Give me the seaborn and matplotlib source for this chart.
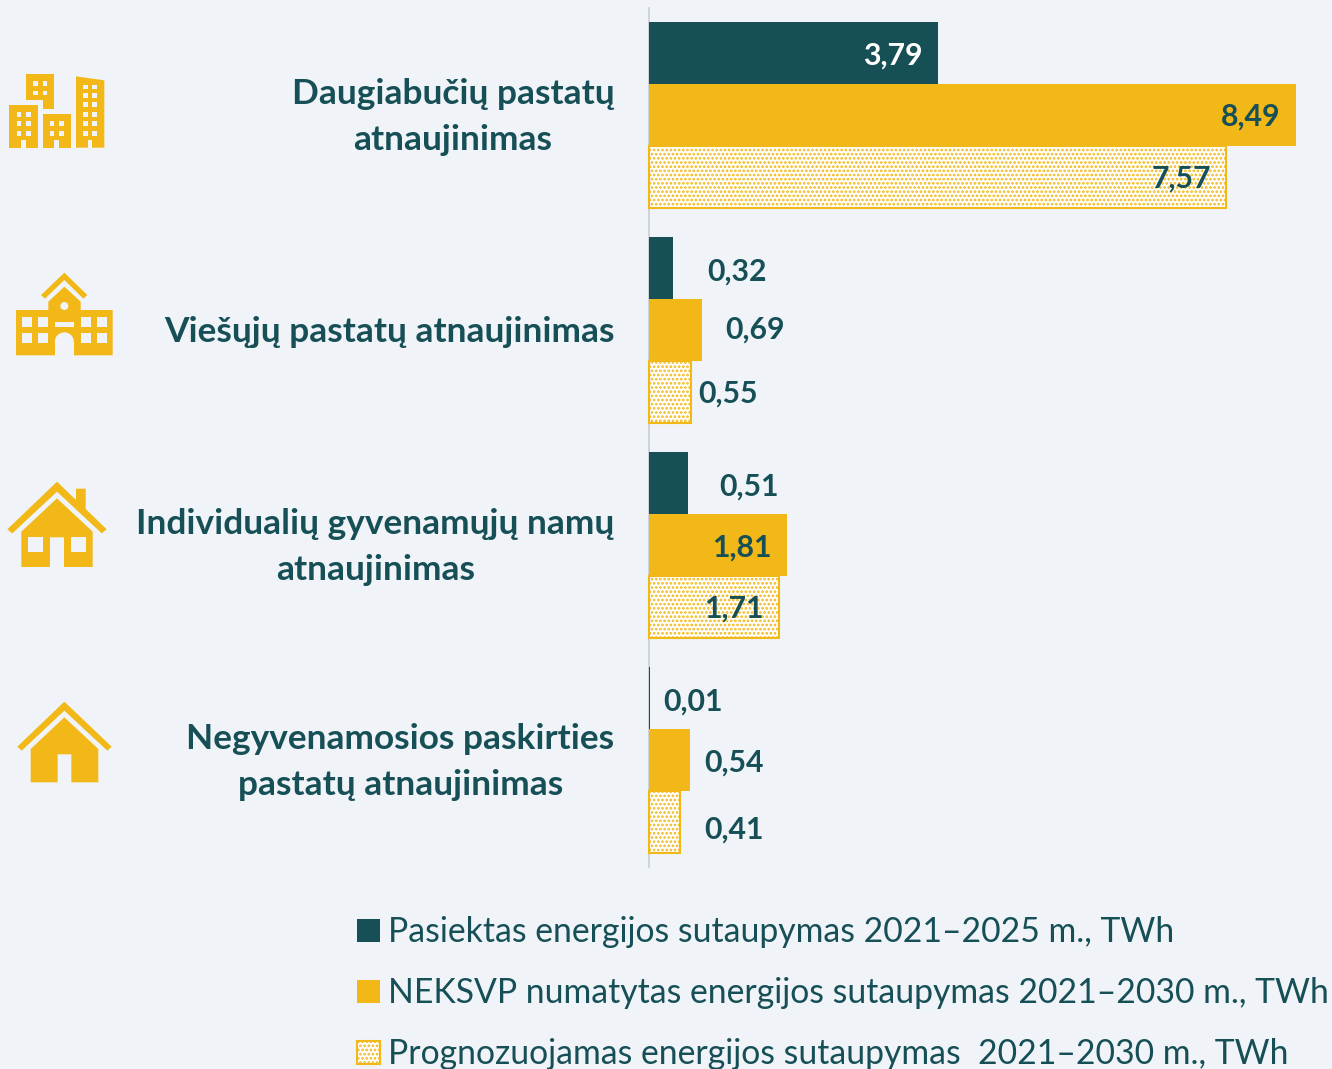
import matplotlib
matplotlib.use("Agg")
import matplotlib.pyplot as plt
from matplotlib.patches import Polygon, Rectangle, Ellipse
from matplotlib.transforms import ScaledTranslation
import pandas as pd
import seaborn as sns

categories = ["Daugiabučių pastatų\natnaujinimas",
              "Viešųjų pastatų atnaujinimas",
              "Individualių gyvenamųjų namų\natnaujinimas",
              "Negyvenamosios paskirties\npastatų atnaujinimas"]
series_names = ["Pasiektas energijos sutaupymas 2021–2025 m., TWh",
                "NEKSVP numatytas energijos sutaupymas 2021–2030 m., TWh",
                "Prognozuojamas energijos sutaupymas  2021–2030 m., TWh"]
achieved = [3.79, 0.32, 0.51, 0.01]
planned = [8.49, 0.69, 1.81, 0.54]
forecast = [7.57, 0.55, 1.71, 0.41]

DARK = "#174F57"
YEL = "#F2B817"
BG = "#F0F4F8"
W, H = 1332, 1069
FONT = "Lato"

sns.set_theme(style="white", rc={"font.family": FONT, "hatch.linewidth": 1.3,
                                 "hatch.color": YEL})
plt.rcParams["font.family"] = [FONT, "DejaVu Sans"]

df = pd.DataFrame({"cat": categories * 3,
                   "series": sum([[s] * 4 for s in series_names], []),
                   "val": achieved + planned + forecast})

fig = plt.figure(figsize=(W / 100, H / 100), dpi=100, facecolor=BG)
ax = fig.add_axes([0, 0, 1, 1], facecolor=BG)
sns.barplot(data=df, y="cat", x="val", hue="series", order=categories,
            hue_order=series_names, palette=[DARK, YEL, "white"], width=0.865,
            saturation=1, legend=False, ax=ax, orient="h", errorbar=None,
            linewidth=0)

px_x, group_px, zero_px, first_px = 76.2, 215.0, 649.0, 115.0
ax.set_xlim(-zero_px / px_x, (W - zero_px) / px_x)
ax.set_ylim((H - first_px) / group_px, -first_px / group_px)
ax.set_xlabel(""); ax.set_ylabel(""); ax.set_xticks([])

for c in ax.containers:
    for p in c:
        p.set_zorder(3)
for c in ax.containers[2:3]:
    for p in c:
        p.set(facecolor="white", edgecolor=YEL, linewidth=1.5, hatch="....")

for s in ["top", "right", "bottom"]:
    ax.spines[s].set_visible(False)
ax.spines["left"].set(color="#C9CED2", linewidth=1.2)
ax.spines["left"].set_position(("data", 0))
ax.spines["left"].set_bounds((867 - first_px) / group_px, (8 - first_px) / group_px)

# styled after the spine move, which resets the ticks
ax.set_yticks(range(len(categories)), categories)
ax.tick_params(axis="y", length=0, pad=25)
nudge = ScaledTranslation(0, -2 / 100, fig.dpi_scale_trans)
for t in ax.get_yticklabels():
    t.set(fontsize=25.4, fontweight="bold", color=DARK, ha="right", va="center",
          multialignment="center", linespacing=1.52)
    t.set_transform(t.get_transform() + nudge)

handles = [c[0] for c in ax.containers]
fig.legend(handles, series_names, loc="upper left",
           bbox_to_anchor=(357 / W, 1 - 916 / H), frameon=False, fontsize=24.3,
           labelcolor=DARK, handlelength=0.68, handleheight=0.68,
           handletextpad=0.24, labelspacing=0.86, borderpad=0, borderaxespad=0)

# pixel overlay for value labels and icons
ov = fig.add_axes([0, 0, 1, 1], facecolor="none")
ov.set_xlim(0, W); ov.set_ylim(H, 0); ov.axis("off")

label_x = [893, 1251, 1181, 737, 755, 728, 749, 742, 734, 693, 734, 734]
label_y = [56, 117, 179, 272, 330, 394, 487, 548, 609, 702, 763, 830]
values = [v for g in zip(achieved, planned, forecast) for v in g]
for i, (v, x, y) in enumerate(zip(values, label_x, label_y)):
    ov.text(x, y, f"{v:.2f}".replace(".", ","), ha="center", va="center",
            fontsize=21.8, fontweight="bold",
            color="white" if i == 0 else DARK)


def poly(pts, off, col=YEL):
    ov.add_patch(Polygon([(x / 3, y / 3 + off) for x, y in pts], closed=True,
                         facecolor=col, edgecolor="none"))


def rect(x0, y0, x1, y1, off, col=BG):
    ov.add_patch(Rectangle((x0 / 3, y0 / 3 + off), (x1 - x0) / 3, (y1 - y0) / 3,
                           facecolor=col, edgecolor="none"))


def grid(xs, ys, w, h, off):
    for x in xs:
        for y in ys:
            rect(x, y, x + w, y + h, off)


# apartment blocks
o = 60
poly([(78, 42), (163, 42), (163, 148), (128, 148), (128, 120), (78, 120)], o)
grid([100, 128], [64, 92], 14, 14, o)
rect(28, 135, 113, 263, o, YEL); rect(64, 240, 78, 263, o)
grid([50, 78], [156, 184, 213], 14, 14, o)
rect(128, 163, 213, 263, o, YEL); rect(163, 241, 177, 263, o)
grid([149, 177], [184, 213], 14, 14, o)
poly([(228, 49), (313, 61), (313, 263), (228, 263)], o)
rect(263, 241, 277, 263, o)
grid([249, 277], [74, 99, 127, 156, 184, 213], 14, 14, o)

# school
o = 260
poly([(123, 105), (193, 38), (262, 105), (250, 116), (193, 60), (135, 116)], o)
poly([(145, 125), (193, 80), (242, 125), (242, 150), (338, 150), (338, 286),
      (48, 286), (48, 150), (145, 150)], o)
rect(165, 245, 222, 287, o)
ov.add_patch(Ellipse((193 / 3, 245 / 3 + o), 57 / 3, 56 / 3, facecolor=BG, edgecolor="none"))
grid([65, 113, 242, 290], [170, 218], 32, 32, o)
rect(165, 186, 222, 202, o)
ov.add_patch(Ellipse((193 / 3, 138 / 3 + o), 24 / 3, 24 / 3, facecolor=BG, edgecolor="none"))

# detached house
o = 470
poly([(22, 178), (171, 35), (228, 90), (228, 56), (257, 56), (257, 117), (320, 178),
      (305, 190), (171, 65), (37, 190)], o)
poly([(64, 185), (171, 85), (278, 185), (278, 291), (192, 291), (192, 202), (150, 202),
      (150, 291), (64, 291)], o)
grid([85, 214], [202], 43, 43, o)

# non-residential
o = 690
poly([(52, 170), (193, 35), (335, 170), (322, 182), (193, 62), (65, 182)], o)
poly([(92, 177), (193, 82), (295, 177), (295, 277), (214, 277), (214, 193), (173, 193),
      (173, 277), (92, 277)], o)

fig.savefig("out.png", dpi=100, facecolor=BG)
